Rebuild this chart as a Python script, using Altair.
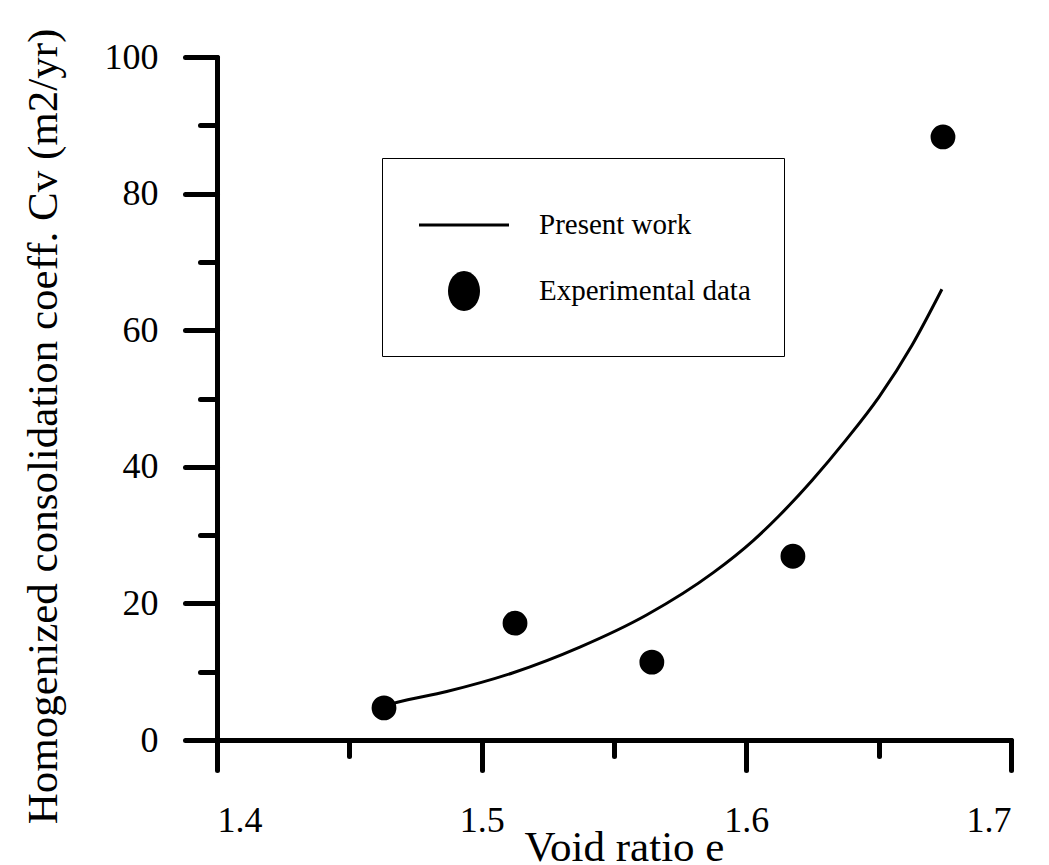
import altair as alt
import pandas as pd

# Experimental data (void ratio e, Cv in m2/yr)
exp_e = [1.4631, 1.5126, 1.5643, 1.6176, 1.6743]
exp_cv = [4.7, 17.1, 11.4, 26.9, 88.3]

# Present work curve
curve_e = [1.4631, 1.4678, 1.4868, 1.5119, 1.5371, 1.5623, 1.5875,
           1.6026, 1.6123, 1.6248, 1.6376, 1.6501, 1.6626, 1.6739]
curve_cv = [5.0, 5.5, 7.1, 9.85, 13.6, 18.3, 24.5,
            29.2, 32.8, 38.0, 43.9, 50.2, 57.8, 66.0]

legend_labels = ["Present work", "Experimental data"]
x_ticks = [1.4, 1.45, 1.5, 1.55, 1.6, 1.65, 1.7]
y_ticks = [0, 10, 20, 30, 40, 50, 60, 70, 80, 90, 100]

FONT = "Liberation Serif"

exp_df = pd.DataFrame({"e": exp_e, "cv": exp_cv})
curve_df = pd.DataFrame({"e": curve_e, "cv": curve_cv})
leg_df = pd.DataFrame({"series": legend_labels})

x_major = "abs(datum.value*10 - round(datum.value*10)) < 0.001"
y_major = "datum.value % 20 == 0"

x_axis = alt.Axis(
    values=x_ticks,
    labelExpr=f"{x_major} ? format(datum.value, '.1f') : ''",
    labelOverlap=False,
    grid=False,
    domainColor="black", domainWidth=5, domainCap="round",
    tickColor="black", tickWidth=5, tickCap="round",
    tickSize={"condition": {"test": x_major, "value": 30}, "value": 16},
    labelFont=FONT, labelFontSize=36, labelColor="black", labelPadding=33,
    title="Void ratio e", titleFont=FONT, titleFontSize=43,
    titleFontWeight="normal", titleColor="black",
    titleX=407, titleY=120, titleBaseline="alphabetic", titleAlign="center",
)

y_axis = alt.Axis(
    values=y_ticks,
    labelExpr=f"{y_major} ? datum.label : ''",
    labelOverlap=False,
    grid=False,
    domainColor="black", domainWidth=5, domainCap="round",
    tickColor="black", tickWidth=5, tickCap="round",
    tickSize={"condition": {"test": y_major, "value": 32}, "value": 17},
    labelFont=FONT, labelFontSize=36, labelColor="black", labelPadding=27,
    title="Homogenized consolidation coeff. Cv (m2/yr)",
    titleFont=FONT, titleFontSize=43, titleFontWeight="normal", titleColor="black",
    titleX=-161, titleY=369, titleAngle=270, titleBaseline="alphabetic",
    titleAlign="center",
)

xs = alt.Scale(domain=[1.4, 1.7], nice=False, zero=False)
ys = alt.Scale(domain=[0, 100], nice=False)

line = alt.Chart(curve_df).mark_line(
    color="black", strokeWidth=3, interpolate="monotone"
).encode(
    x=alt.X("e:Q", scale=xs, axis=x_axis),
    y=alt.Y("cv:Q", scale=ys, axis=y_axis),
)

points = alt.Chart(exp_df).mark_circle(
    color="black", opacity=1, size=616
).encode(
    x=alt.X("e:Q", scale=xs),
    y=alt.Y("cv:Q", scale=ys),
)

# legend symbols: a thin filled bar for the line, a tall ellipse for the data
bar_path = "M-1,-0.034L1,-0.034L1,0.034L-1,0.034Z"
ellipse = "M0,-0.444A0.356,0.444,0,1,1,0,0.444A0.356,0.444,0,1,1,0,-0.444Z"

legend_layer = alt.Chart(leg_df).transform_filter("false").mark_point(
    filled=True, color="black", opacity=1
).encode(
    shape=alt.Shape(
        "series:N",
        scale=alt.Scale(domain=legend_labels, range=[bar_path, ellipse]),
        legend=alt.Legend(
            title=["\u00a0"] * 10, titleOrient="right", titleFontSize=12,
            titleLineHeight=18.2, titlePadding=11,
            orient="none", legendX=165, legendY=101,
            strokeColor="black", padding=22, rowPadding=6,
            symbolSize=8100, symbolFillColor="black",
            symbolStrokeWidth=0,
            symbolOpacity=1, symbolOffset=15,
            labelFont=FONT, labelFontSize=29, labelColor="black",
            labelOffset=30, labelLimit=400,
        ),
    )
)

chart = alt.layer(line, points, legend_layer).properties(
    width=794, height=683,
    padding={"left": 209, "top": 49, "right": 30, "bottom": 125},
    autosize=alt.AutoSizeParams(type="none"),
    background="white",
).configure_view(stroke=None)

chart.save("out.html", embed_options={"renderer": "svg", "actions": False})
